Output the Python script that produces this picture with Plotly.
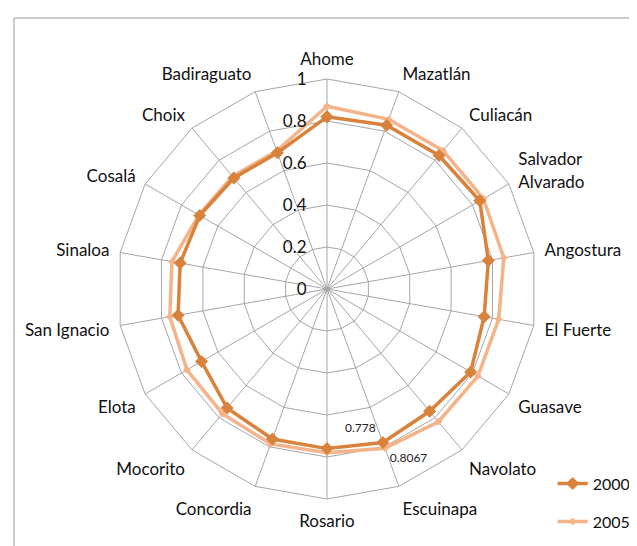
import plotly.graph_objects as go

categories = ["Ahome", "Mazatlán", "Culiacán", "Salvador<br>Alvarado", "Angostura", "El Fuerte",
              "Guasave", "Navolato", "Escuinapa", "Rosario", "Concordia", "Mocorito",
              "Elota", "San Ignacio", "Sinaloa", "Cosalá", "Choix", "Badiraguato"]
v2000 = [0.82, 0.83, 0.83, 0.84, 0.78, 0.76, 0.79, 0.76, 0.778, 0.76, 0.76, 0.74,
         0.69, 0.72, 0.71, 0.70, 0.69, 0.69]
v2005 = [0.87, 0.86, 0.86, 0.86, 0.855, 0.83, 0.83, 0.825, 0.8067, 0.78, 0.785, 0.775,
         0.77, 0.76, 0.75, 0.705, 0.70, 0.70]
tick_vals = [0, 0.2, 0.4, 0.6, 0.8, 1]
tick_text = ["0", "0.2", "0.4", "0.6", "0.8", "1"]
label_cat = "Escuinapa"

c2000 = "#D9823B"
c2005 = "#F5B389"

def close(lst):
    return list(lst) + [lst[0]]

def labels(vals):
    return [str(v) if c == label_cat else "" for c, v in zip(categories, vals)]

fig = go.Figure()
fig.add_trace(go.Scatterpolar(
    r=close(v2005), theta=close(categories), name="2005", legendgroup="g2", legendrank=2,
    mode="lines+markers+text", text=close(labels(v2005)),
    textposition="bottom right", textfont=dict(size=12, color="#222", family="Lato"),
    line=dict(color=c2005, width=3.5), marker=dict(symbol="diamond", size=6, color=c2005),
))
fig.add_trace(go.Scatterpolar(
    r=close(v2000), theta=close(categories), name="2000", legendgroup="g1", legendrank=1,
    mode="lines+markers+text", text=close(labels(v2000)),
    textposition="top left", textfont=dict(size=12, color="#222", family="Lato"),
    line=dict(color=c2000, width=3.5), marker=dict(symbol="diamond", size=10, color=c2000),
))

W, H = 637, 546
cx, cy, R = 319, 281, 210
fig.update_layout(
    width=W, height=H,
    margin=dict(l=0, r=0, t=0, b=0),
    paper_bgcolor="white", plot_bgcolor="white",
    font=dict(family="Lato", size=17, color="#111"),
    showlegend=True,
    legend=dict(x=0.855, y=0.028, xanchor="left", yanchor="bottom",
                traceorder="grouped", font=dict(size=16, family="Lato"),
                itemwidth=30, tracegroupgap=14, bgcolor="rgba(0,0,0,0)"),
    polar=dict(
        domain=dict(x=[(cx - R) / W, (cx + R) / W], y=[(H - cy - R) / H, (H - cy + R) / H]),
        gridshape="linear",
        bgcolor="white",
        radialaxis=dict(range=[0, 1], tickvals=tick_vals, ticktext=tick_text,
                        angle=90, tickangle=90, side="counterclockwise",
                        showline=False, gridcolor="#A6A6A6", gridwidth=1,
                        ticks="outside", ticklen=14, tickcolor="rgba(0,0,0,0)",
                        tickfont=dict(size=17, family="Lato", color="#111")),
        angularaxis=dict(direction="clockwise", rotation=90, type="category",
                         categoryarray=categories,
                         gridcolor="#A6A6A6", linecolor="#A6A6A6", linewidth=1,
                         ticks="outside", ticklen=7, tickcolor="rgba(0,0,0,0)",
                         tickfont=dict(size=17, family="Lato", color="#111")),
    ),
    shapes=[
        dict(type="line", xref="paper", yref="paper", x0=6 / W, x1=1.0, y0=1 - 10 / H, y1=1 - 10 / H,
             line=dict(color="#9A9A9A", width=1)),
        dict(type="line", xref="paper", yref="paper", x0=6 / W, x1=6 / W, y0=0, y1=1 - 10 / H,
             line=dict(color="#9A9A9A", width=1)),
    ],
)
fig.write_html("out.html")
